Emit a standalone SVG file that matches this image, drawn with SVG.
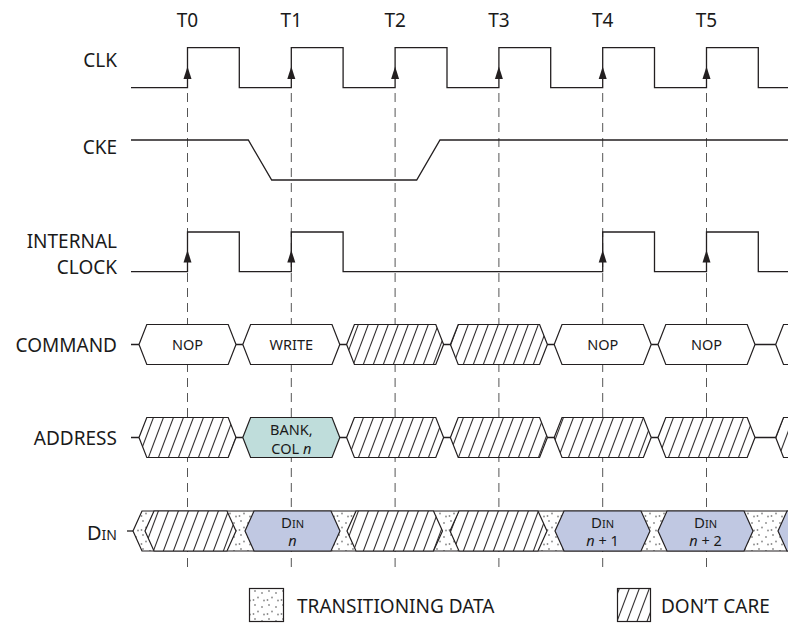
<svg xmlns="http://www.w3.org/2000/svg" width="788" height="625" viewBox="0 0 788 625">
<style>
  text { font-family: "Noto Sans", "Liberation Sans", sans-serif; fill: #1a1a1a; }
  .lbl { font-size: 19px; text-anchor: end; }
  .tl { font-size: 19px; text-anchor: middle; }
  .bx { font-size: 14.5px; text-anchor: middle; }
  .sig { fill: none; stroke: #231f20; stroke-width: 1.3; }
  .grid { stroke: #555; stroke-width: 1; stroke-dasharray: 9 6; }
  .box { stroke: #231f20; stroke-width: 1.2; fill: #fff; }
  .hatch { stroke: #231f20; stroke-width: 1.2; fill: url(#hatch); }
  .dots { stroke: #231f20; stroke-width: 1.2; fill: url(#dots); }
  .blue { stroke: #231f20; stroke-width: 1.2; fill: #c0c8e2; }
  .teal { stroke: #231f20; stroke-width: 1.2; fill: #bfdddb; }
</style>
<defs>
  <pattern id="hatch" patternUnits="userSpaceOnUse" width="10" height="26.667">
    <rect width="10" height="26.667" fill="#fff"/>
    <path d="M-10,26.667 L0,0 M0,26.667 L10,0 M10,26.667 L20,0" stroke="#231f20" stroke-width="1"/>
  </pattern>
  <pattern id="dots" patternUnits="userSpaceOnUse" width="14" height="14">
    <rect width="14" height="14" fill="#fff"/>
    <circle cx="3" cy="3" r="0.9" fill="#8a8a8a"/>
    <circle cx="10" cy="5" r="0.9" fill="#8a8a8a"/>
    <circle cx="6" cy="9.5" r="0.9" fill="#8a8a8a"/>
    <circle cx="12" cy="12.5" r="0.9" fill="#8a8a8a"/>
    <circle cx="1.5" cy="12" r="0.9" fill="#8a8a8a"/>
  </pattern>
  <path id="arr" d="M0,0 L-4,12.5 L4,12.5 Z" fill="#231f20"/>
</defs>

<g id="time-labels">
  <text class="tl" x="187.5" y="27">T0</text>
  <text class="tl" x="291.3" y="27">T1</text>
  <text class="tl" x="395.1" y="27">T2</text>
  <text class="tl" x="498.9" y="27">T3</text>
  <text class="tl" x="602.7" y="27">T4</text>
  <text class="tl" x="706.5" y="27">T5</text>
</g>

<g id="connectors">
  <line class="grid" x1="187.5" y1="93" x2="187.5" y2="567"/>
  <line class="grid" x1="291.3" y1="93" x2="291.3" y2="567"/>
  <line class="grid" x1="395.1" y1="93" x2="395.1" y2="567"/>
  <line class="grid" x1="498.9" y1="93" x2="498.9" y2="567"/>
  <line class="grid" x1="602.7" y1="93" x2="602.7" y2="567"/>
  <line class="grid" x1="706.5" y1="93" x2="706.5" y2="567"/>
</g>

<g id="clk">
  <text class="lbl" x="117" y="67">CLK</text>
  <path class="sig" d="M131,87.7 H187.5 V47.7 H239.3 V87.7 H291.3 V47.7 H343.1 V87.7 H395.1 V47.7 H447 V87.7 H498.9 V47.7 H550.7 V87.7 H602.7 V47.7 H654.5 V87.7 H706.5 V47.7 H758.3 V87.7 H790"/>
  <use href="#arr" x="187.5" y="66.5"/>
  <use href="#arr" x="291.3" y="66.5"/>
  <use href="#arr" x="395.1" y="66.5"/>
  <use href="#arr" x="498.9" y="66.5"/>
  <use href="#arr" x="602.7" y="66.5"/>
  <use href="#arr" x="706.5" y="66.5"/>
</g>

<g id="cke">
  <text class="lbl" x="117" y="154">CKE</text>
  <path class="sig" d="M131,140 H248.3 L271.7,180 H416.7 L440,140 H790"/>
</g>

<g id="internal-clock">
  <text class="lbl" x="117" y="248">INTERNAL</text>
  <text class="lbl" x="117" y="274">CLOCK</text>
  <path class="sig" d="M131,271.7 H187.5 V232 H239.3 V271.7 H291.3 V232 H343.1 V271.7 H602.7 V232 H654.5 V271.7 H706.5 V232 H758.3 V271.7 H790"/>
  <use href="#arr" x="187.5" y="250"/>
  <use href="#arr" x="291.3" y="250"/>
  <use href="#arr" x="602.7" y="250"/>
  <use href="#arr" x="706.5" y="250"/>
</g>

<g id="command">
  <text class="lbl" x="117" y="351.5">COMMAND</text>
  <line class="sig" x1="131" y1="344.5" x2="777" y2="344.5"/>
  <g id="cmd-nop-t0"><polygon class="box" points="139,344.5 146.8,324.5 228.2,324.5 236,344.5 228.2,364.5 146.8,364.5"/><text class="bx" x="187.5" y="349.5">NOP</text></g>
  <g id="cmd-write-t1"><polygon class="box" points="242.8,344.5 250.6,324.5 332,324.5 339.8,344.5 332,364.5 250.6,364.5"/><text class="bx" x="291.3" y="349.5">WRITE</text></g>
  <g id="cmd-dc-t2"><polygon class="hatch" points="346.6,344.5 354.4,324.5 435.8,324.5 443.6,344.5 435.8,364.5 354.4,364.5"/></g>
  <g id="cmd-dc-t3"><polygon class="hatch" points="450.4,344.5 458.2,324.5 539.6,324.5 547.4,344.5 539.6,364.5 458.2,364.5"/></g>
  <g id="cmd-nop-t4"><polygon class="box" points="554.2,344.5 562,324.5 643.4,324.5 651.2,344.5 643.4,364.5 562,364.5"/><text class="bx" x="602.7" y="349.5">NOP</text></g>
  <g id="cmd-nop-t5"><polygon class="box" points="658,344.5 665.8,324.5 747.2,324.5 755,344.5 747.2,364.5 665.8,364.5"/><text class="bx" x="706.5" y="349.5">NOP</text></g>
  <g id="cmd-next"><polygon class="box" points="775.7,344.5 783.5,324.5 800,324.5 800,364.5 783.5,364.5"/></g>
</g>

<g id="address">
  <text class="lbl" x="117" y="444.5">ADDRESS</text>
  <line class="sig" x1="131" y1="437.5" x2="777" y2="437.5"/>
  <g id="addr-dc-t0"><polygon class="hatch" points="139,437.5 146.8,417.5 228.2,417.5 236,437.5 228.2,457.5 146.8,457.5"/></g>
  <g id="addr-bank-t1"><polygon class="teal" points="242.8,437.5 250.6,417.5 332,417.5 339.8,437.5 332,457.5 250.6,457.5"/>
    <text class="bx" x="291.3" y="434.5">BANK,</text>
    <text class="bx" x="291.3" y="454">COL <tspan font-style="italic">n</tspan></text></g>
  <g id="addr-dc-t2"><polygon class="hatch" points="346.6,437.5 354.4,417.5 435.8,417.5 443.6,437.5 435.8,457.5 354.4,457.5"/></g>
  <g id="addr-dc-t3"><polygon class="hatch" points="450.4,437.5 458.2,417.5 539.6,417.5 547.4,437.5 539.6,457.5 458.2,457.5"/></g>
  <g id="addr-dc-t4"><polygon class="hatch" points="554.2,437.5 562,417.5 643.4,417.5 651.2,437.5 643.4,457.5 562,457.5"/></g>
  <g id="addr-dc-t5"><polygon class="hatch" points="658,437.5 665.8,417.5 747.2,417.5 755,437.5 747.2,457.5 665.8,457.5"/></g>
  <g id="addr-next"><polygon class="hatch" points="775.7,437.5 783.5,417.5 800,417.5 800,457.5 783.5,457.5"/></g>
</g>

<g id="din">
  <text class="lbl" x="117" y="540"><tspan font-size="20">D</tspan><tspan font-size="14">IN</tspan></text>
  <line class="sig" x1="127" y1="531" x2="133" y2="531"/>
  <polygon class="dots" points="133,531 142,511 800,511 800,551 142,551"/>
  <g id="din-dc-t0"><polygon class="hatch" points="145,531 154,511 227,511 236,531 227,551 154,551"/></g>
  <g id="din-n"><polygon class="blue" points="245,531 254,511 331,511 340,531 331,551 254,551"/>
    <text class="bx" x="292.5" y="528"><tspan font-size="15">D</tspan><tspan font-size="11">IN</tspan></text>
    <text class="bx" x="292.5" y="546" font-size="15" font-style="italic">n</text></g>
  <g id="din-dc-t2"><polygon class="hatch" points="347,531 356,511 433.5,511 442.5,531 433.5,551 356,551"/></g>
  <g id="din-dc-t3"><polygon class="hatch" points="450,531 459,511 538,511 547,531 538,551 459,551"/></g>
  <g id="din-n1"><polygon class="blue" points="555,531 564,511 641,511 650,531 641,551 564,551"/>
    <text class="bx" x="602.5" y="528"><tspan font-size="15">D</tspan><tspan font-size="11">IN</tspan></text>
    <text class="bx" x="602.5" y="546" font-size="15"><tspan font-style="italic">n</tspan> + 1</text></g>
  <g id="din-n2"><polygon class="blue" points="658,531 667,511 744,511 753,531 744,551 667,551"/>
    <text class="bx" x="705.5" y="528"><tspan font-size="15">D</tspan><tspan font-size="11">IN</tspan></text>
    <text class="bx" x="705.5" y="546" font-size="15"><tspan font-style="italic">n</tspan> + 2</text></g>
  <g id="din-next"><polygon class="blue" points="778,531 787,511 800,511 800,551 787,551"/></g>
</g>

<g id="legend">
  <g id="legend-transitioning">
    <rect class="dots" x="249.5" y="588.5" width="34" height="33"/>
    <text x="297" y="613" font-size="19">TRANSITIONING DATA</text>
  </g>
  <g id="legend-dontcare">
    <rect class="hatch" x="617.5" y="588.5" width="33" height="33"/>
    <text x="661" y="613" font-size="19">DON’T CARE</text>
  </g>
</g>
</svg>
